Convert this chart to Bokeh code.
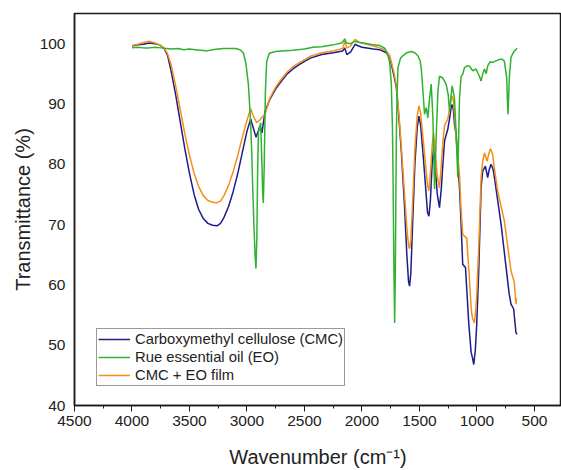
from bokeh.plotting import figure
from bokeh.models import Range1d, SingleIntervalTicker, FixedTicker, Legend, LegendItem
from bokeh.embed import file_html
from bokeh.resources import INLINE

# ---- data ----
cmc_wn = [4000, 3950, 3900, 3850, 3800, 3760, 3720, 3690, 3660, 3620, 3580, 3540, 3500, 3460,
          3420, 3380, 3340, 3300, 3260, 3230, 3200, 3160, 3120, 3080, 3040, 3000, 2968, 2945,
          2922, 2900, 2887, 2870, 2843, 2800, 2750, 2700, 2650, 2600, 2540, 2450, 2350, 2250,
          2167, 2150, 2132, 2100, 2060, 2040, 2000, 1900, 1846, 1788, 1760, 1745, 1720, 1701,
          1680, 1658, 1630, 1610, 1595, 1586, 1575, 1560, 1540, 1520, 1505, 1490, 1470, 1450,
          1430, 1418, 1405, 1390, 1378, 1365, 1345, 1326, 1310, 1295, 1282, 1254, 1235, 1225,
          1216, 1205, 1195, 1181, 1165, 1152, 1140, 1124, 1100, 1085, 1071, 1051, 1040, 1028,
          1015, 1002, 985, 964, 950, 927, 907, 895, 878, 860, 848, 820, 790, 747, 720, 704,
          681, 661, 652]
cmc_t = [99.6, 99.8, 99.9, 100.1, 100.0, 99.8, 99.2, 98.0, 95.5, 91.5, 87.0, 82.5, 78.5, 75.0,
         72.5, 71.0, 70.2, 69.9, 69.8, 70.2, 71.2, 73.0, 75.5, 78.5, 82.0, 85.5, 87.5, 86.0,
         84.5, 85.6, 86.4, 85.2, 88.8, 90.8, 92.5, 93.8, 95.0, 95.8, 96.6, 97.6, 98.2, 98.5,
         98.8, 99.3, 98.2, 98.6, 99.9, 99.7, 99.4, 99.1, 99.0, 98.5, 97.8, 96.6, 94.5, 92.7,
         88.0, 82.2, 73.0, 65.0, 60.5, 59.8, 62.0, 70.0, 80.0, 86.0, 88.0, 86.5, 82.0, 77.0,
         72.0, 71.4, 74.0, 80.0, 82.8, 80.0, 75.0, 72.8, 76.0, 80.5, 83.9, 85.8, 88.0, 89.4,
         89.9, 89.0, 86.5, 85.0, 80.0, 76.1, 71.0, 63.4, 62.9, 58.0, 53.5, 48.8, 48.0, 46.8,
         49.0, 53.5, 62.3, 76.1, 78.9, 79.7, 77.8, 79.0, 80.0, 79.2, 77.8, 74.0, 70.0, 62.9,
         58.5, 56.8, 56.0, 52.1, 51.8]

eo_wn = [4000, 3950, 3900, 3850, 3800, 3750, 3700, 3650, 3600, 3550, 3500, 3450, 3400, 3350,
         3300, 3250, 3200, 3150, 3100, 3060, 3032, 3010, 2988, 2970, 2959, 2950, 2940, 2930,
         2922, 2914, 2908, 2901, 2881, 2870, 2863, 2858, 2850, 2840, 2829, 2806, 2750, 2700,
         2600, 2500, 2427, 2350, 2250, 2180, 2167, 2150, 2135, 2100, 2060, 2020, 1950, 1900,
         1846, 1800, 1774, 1760, 1745, 1735, 1730, 1722, 1716, 1710, 1704, 1701, 1695, 1687,
         1665, 1644, 1610, 1572, 1540, 1514, 1495, 1485, 1470, 1456, 1441, 1427, 1412, 1398,
         1383, 1369, 1354, 1340, 1326, 1297, 1268, 1250, 1239, 1216, 1196, 1181, 1167, 1152,
         1138, 1124, 1109, 1090, 1066, 1037, 1008, 979, 964, 950, 935, 920, 907, 885, 863,
         805, 780, 762, 742, 735, 730, 725, 719, 704, 690, 675, 660, 655]
eo_t = [99.3, 99.4, 99.3, 99.3, 99.4, 99.3, 99.2, 99.1, 99.2, 99.0, 99.1, 99.0, 98.9, 98.8,
        99.0, 99.1, 99.2, 99.2, 99.2, 99.0, 98.5, 96.8, 93.3, 87.5, 82.2, 76.0, 70.0, 65.0,
        62.7, 68.0, 78.0, 85.2, 86.9, 80.0, 75.0, 73.6, 80.0, 92.0, 97.0, 98.4, 98.7, 98.8,
        98.9, 99.1, 99.4, 99.5, 99.8, 100.1, 100.3, 100.8, 100.1, 100.0, 100.4, 100.2, 100.0, 99.8,
        99.7, 99.2, 98.0, 97.0, 93.3, 86.0, 78.0, 62.0, 53.7, 62.0, 78.0, 85.0, 91.5, 96.0,
        97.6, 98.0, 98.5, 98.7, 98.5, 98.0, 97.2, 96.0, 92.2, 88.3, 89.4, 87.7, 91.0, 93.3,
        87.7, 75.9, 85.0, 92.0, 94.6, 94.3, 93.3, 91.5, 88.8, 93.0, 91.0, 85.0, 77.8, 91.0,
        94.6, 94.9, 96.0, 96.3, 96.3, 95.5, 95.8, 94.6, 93.8, 95.0, 95.8, 95.0, 96.3, 97.0, 96.9,
        97.4, 97.4, 97.1, 94.4, 90.5, 88.3, 91.0, 94.4, 97.7, 98.3, 98.8, 99.0, 99.3]

film_wn = [4000, 3950, 3900, 3850, 3800, 3760, 3720, 3690, 3660, 3620, 3580, 3540, 3500, 3460,
           3420, 3380, 3340, 3300, 3263, 3230, 3200, 3160, 3120, 3080, 3040, 3000, 2968, 2945,
           2916, 2890, 2870, 2843, 2800, 2750, 2713, 2650, 2600, 2540, 2450, 2350, 2250, 2167,
           2150, 2132, 2100, 2060, 2030, 2000, 1900, 1846, 1788, 1760, 1745, 1720, 1701, 1680,
           1658, 1630, 1610, 1595, 1586, 1575, 1560, 1540, 1520, 1505, 1490, 1470, 1450, 1430,
           1418, 1405, 1390, 1378, 1365, 1345, 1326, 1310, 1295, 1282, 1254, 1235, 1225, 1216,
           1205, 1195, 1181, 1165, 1152, 1140, 1124, 1100, 1089, 1075, 1066, 1051, 1040, 1022,
           1010, 1002, 985, 964, 950, 935, 913, 900, 884, 865, 850, 820, 790, 762, 730, 704,
           675, 661, 655]
film_t = [99.7, 99.9, 100.2, 100.4, 100.1, 99.8, 99.3, 98.3, 96.5, 93.0, 89.0, 85.0, 81.5, 78.5,
          76.3, 74.8, 74.0, 73.7, 73.6, 73.9, 74.8, 76.5, 78.8, 81.5, 84.5, 87.3, 89.2, 88.0,
          86.9, 87.3, 87.8, 88.3, 91.0, 92.8, 93.8, 95.3, 96.2, 96.9, 97.9, 98.5, 98.8, 99.2,
          100.4, 99.3, 99.6, 100.7, 100.3, 100.1, 99.6, 99.3, 98.8, 98.0, 97.0, 95.0, 93.0, 88.5,
          83.0, 75.0, 69.5, 66.5, 66.0, 67.5, 73.5, 82.5, 88.0, 89.7, 88.5, 84.5, 80.5, 76.5,
          75.6, 78.5, 83.0, 85.2, 82.5, 78.0, 76.1, 80.0, 84.0, 86.4, 87.5, 89.5, 90.8, 91.3,
          90.5, 88.0, 84.0, 81.0, 78.3, 73.0, 68.4, 67.9, 67.8, 63.5, 61.2, 56.2, 54.5, 53.7,
          56.0, 58.4, 66.2, 77.8, 80.5, 81.9, 80.5, 81.5, 82.6, 81.8, 79.5, 75.6, 73.0, 70.6,
          66.0, 62.3, 60.4, 56.8, 57.8]

series_names = ["Carboxymethyl cellulose (CMC)", "Rue essential oil (EO)", "CMC + EO film"]
x_ticks = [4500, 4000, 3500, 3000, 2500, 2000, 1500, 1000, 500]
y_ticks = [40, 50, 60, 70, 80, 90, 100]

FONT = "Liberation Sans"
TXT = "#222222"

p = figure(width=561, height=470, output_backend="svg", toolbar_location=None,
           x_range=Range1d(4500, 265), y_range=Range1d(40, 105),
           min_border_left=74, min_border_right=0, min_border_top=13, min_border_bottom=64)
p.background_fill_color = "white"
p.border_fill_color = "white"
p.outline_line_color = "#1a1a1a"
p.outline_line_width = 1.5
p.xgrid.visible = False
p.ygrid.visible = False

r_cmc = p.line(cmc_wn, cmc_t, line_color="#1c1c8a", line_width=1.5)
r_film = p.line(film_wn, film_t, line_color="#f39019", line_width=1.5)
r_eo = p.line(eo_wn, eo_t, line_color="#2fb22f", line_width=1.5)

legend = Legend(items=[LegendItem(label=series_names[0], renderers=[r_cmc]),
                       LegendItem(label=series_names[1], renderers=[r_eo]),
                       LegendItem(label=series_names[2], renderers=[r_film])],
                location=(22, 19))
legend.border_line_color = "#333333"
legend.border_line_width = 1
legend.background_fill_color = "white"
legend.background_fill_alpha = 1
legend.label_text_font = FONT
legend.label_text_font_size = "14.8px"
legend.label_text_color = TXT
legend.glyph_width = 32
legend.glyph_height = 18
legend.label_height = 18
legend.label_standoff = 5
legend.padding = 1
legend.spacing = 0
legend.margin = 0
p.add_layout(legend, "center")

xa = p.xaxis[0]
xa.ticker = SingleIntervalTicker(interval=500, num_minor_ticks=2)
xa.axis_label = "Wavenumber (cm\u207b\u00b9)"
xa.axis_line_color = "#1a1a1a"
xa.axis_line_width = 1.5
xa.major_tick_line_color = "#1a1a1a"
xa.major_tick_out = 6
xa.major_tick_in = 0
xa.minor_tick_line_color = "#1a1a1a"
xa.minor_tick_out = 3
xa.minor_tick_in = 0
xa.major_label_standoff = 4
xa.major_label_text_font = FONT
xa.major_label_text_font_size = "15.5px"
xa.major_label_text_color = TXT
xa.axis_label_text_font = FONT
xa.axis_label_text_font_size = "20px"
xa.axis_label_text_font_style = "normal"
xa.axis_label_text_color = TXT
xa.axis_label_standoff = 17

ya = p.yaxis[0]
ya.ticker = FixedTicker(ticks=y_ticks)
ya.axis_label = "Transmittance (%)"
ya.axis_line_color = "#1a1a1a"
ya.axis_line_width = 1.5
ya.major_tick_out = 0
ya.major_tick_in = 0
ya.minor_tick_line_color = None
ya.major_tick_line_color = None
ya.major_label_standoff = 9
ya.major_label_text_font = FONT
ya.major_label_text_font_size = "15.5px"
ya.major_label_text_color = TXT
ya.axis_label_text_font = FONT
ya.axis_label_text_font_size = "20px"
ya.axis_label_text_font_style = "normal"
ya.axis_label_text_color = TXT
ya.axis_label_standoff = 3

open("out.html", "w").write(file_html(p, INLINE))
